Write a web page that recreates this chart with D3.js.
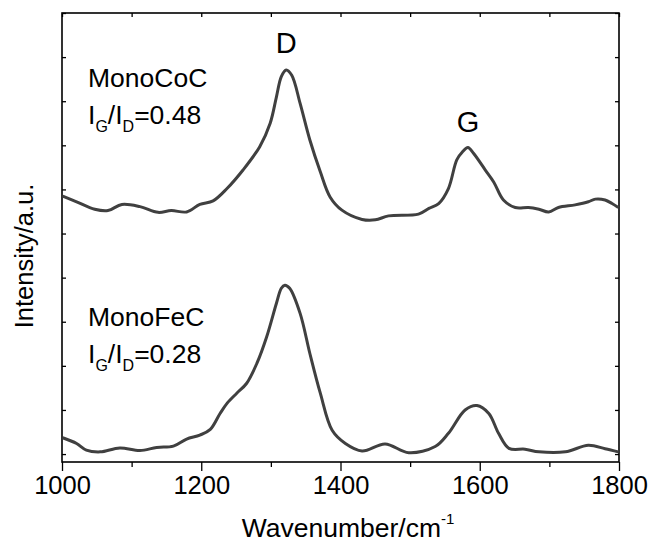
<!DOCTYPE html>
<html>
<head>
<meta charset="utf-8">
<script src="https://cdn.jsdelivr.net/npm/d3@7"></script>
<style>
  body { margin: 0; background: #fff; }
  svg text { font-family: 'Liberation Sans', Arial, sans-serif; fill: #000; }
</style>
</head>
<body>
<div class="svg-container"></div>
<script>
// Raman spectra, intensity in arbitrary units (tick spacing = 1)
const coWave = [1001, 1021, 1047, 1066, 1086, 1112, 1138, 1157, 1179, 1198, 1217, 1237, 1260, 1284, 1299, 1308, 1315, 1322, 1330, 1342, 1356, 1371, 1385, 1402, 1431, 1450, 1469, 1512, 1527, 1541, 1555, 1567, 1575, 1583, 1591, 1608, 1620, 1634, 1651, 1670, 1685, 1699, 1713, 1737, 1756, 1766, 1780, 1790, 1799]
const coInt = [5.85, 5.72, 5.55, 5.52, 5.66, 5.61, 5.48, 5.52, 5.49, 5.66, 5.74, 6.02, 6.44, 6.97, 7.5, 8.1, 8.56, 8.71, 8.59, 7.95, 7.12, 6.4, 5.83, 5.53, 5.32, 5.31, 5.4, 5.44, 5.57, 5.68, 6.02, 6.67, 6.85, 6.95, 6.82, 6.44, 6.17, 5.76, 5.59, 5.59, 5.55, 5.49, 5.59, 5.65, 5.72, 5.78, 5.76, 5.68, 5.59]

const feWave = [1001, 1021, 1035, 1055, 1083, 1112, 1136, 1160, 1179, 1198, 1213, 1227, 1237, 1251, 1265, 1280, 1294, 1308, 1315, 1320, 1327, 1342, 1356, 1371, 1388, 1407, 1431, 1464, 1498, 1536, 1555, 1579, 1596, 1613, 1627, 1642, 1665, 1685, 1723, 1756, 1780, 1799]
const feInt = [0.37, 0.24, 0.09, 0.05, 0.14, 0.08, 0.15, 0.18, 0.34, 0.43, 0.56, 0.92, 1.15, 1.38, 1.6, 2.06, 2.66, 3.42, 3.76, 3.83, 3.76, 3.19, 2.28, 1.38, 0.54, 0.24, 0.07, 0.23, 0.03, 0.17, 0.47, 1.0, 1.1, 0.92, 0.47, 0.13, 0.11, 0.05, 0.05, 0.2, 0.12, 0.05]

const xMajor = [1000, 1200, 1400, 1600, 1800]
const xMinor = [1100, 1300, 1500, 1700]
const yTicks = [0, 1, 2, 3, 4, 5, 6, 7, 8, 9, 10]

const width = 652
const height = 544
const margin = { top: 13, right: 33, bottom: 82, left: 62 }
const innerW = width - margin.left - margin.right
const innerH = height - margin.top - margin.bottom

const xScale = d3.scaleLinear().domain([1000, 1800]).range([0, innerW])
const yScale = d3.scaleLinear().domain([-0.18, 10]).range([innerH, 0])

const svg = d3
  .select('.svg-container')
  .append('svg')
  .attr('width', width)
  .attr('height', height)

const g = svg
  .append('g')
  .attr('transform', 'translate(' + margin.left + ',' + margin.top + ')')

// axes
const styleAxis = (sel) => {
  sel.select('.domain').remove()
  sel.selectAll('line').attr('stroke', '#000').attr('stroke-width', 1.3)
}

g.append('g')
  .attr('transform', 'translate(0,' + innerH + ')')
  .call(d3.axisBottom(xScale).tickValues(xMajor).tickSize(9).tickSizeOuter(0).tickFormat(d3.format('d')))
  .call(styleAxis)
  .call((s) => s.selectAll('text').attr('font-size', 25.5).attr('y', 14).attr('dy', '0.71em'))

g.append('g')
  .attr('transform', 'translate(0,' + innerH + ')')
  .call(d3.axisBottom(xScale).tickValues(xMinor).tickSize(5).tickFormat(''))
  .call(styleAxis)

g.append('g')
  .call(d3.axisTop(xScale).tickValues(xMajor.concat(xMinor)).tickSize(-4).tickFormat(''))
  .call(styleAxis)

g.append('g')
  .call(d3.axisLeft(yScale).tickValues(yTicks).tickSize(-4).tickFormat(''))
  .call(styleAxis)

g.append('g')
  .attr('transform', 'translate(' + innerW + ',0)')
  .call(d3.axisRight(yScale).tickValues(yTicks).tickSize(-4).tickFormat(''))
  .call(styleAxis)

g.append('rect')
  .attr('width', innerW)
  .attr('height', innerH)
  .attr('fill', 'none')
  .attr('stroke', '#000')
  .attr('stroke-width', 1.6)

// spectra
const line = d3
  .line()
  .x((d) => xScale(d[0]))
  .y((d) => yScale(d[1]))
  .curve(d3.curveCatmullRom.alpha(0.5))

const series = [d3.zip(coWave, coInt), d3.zip(feWave, feInt)]

g.selectAll('path.spec')
  .data(series)
  .enter()
  .append('path')
  .attr('class', 'spec')
  .attr('d', line)
  .attr('fill', 'none')
  .attr('stroke', '#404040')
  .attr('stroke-width', 3)
  .attr('stroke-linejoin', 'round')

// peak labels
g.append('text').attr('x', xScale(1322)).attr('y', 40).attr('text-anchor', 'middle').attr('font-size', 29).text('D')
g.append('text').attr('x', xScale(1583)).attr('y', 119).attr('text-anchor', 'middle').attr('font-size', 29).text('G')

// sample labels
function ratioLabel(x, y, name, value) {
  g.append('text').attr('x', x).attr('y', y).attr('font-size', 26.5).text(name)
  const t = g.append('text').attr('x', x).attr('y', y + 37).attr('font-size', 26.5)
  t.append('tspan').text('I')
  t.append('tspan').attr('font-size', 16).attr('dy', 8).text('G')
  t.append('tspan').attr('dy', -8).text('/I')
  t.append('tspan').attr('font-size', 16).attr('dy', 8).text('D')
  t.append('tspan').attr('dy', -8).text('=' + value)
}
ratioLabel(26, 74, 'MonoCoC', '0.48')
ratioLabel(26, 313, 'MonoFeC', '0.28')

// axis titles
const xt = svg.append('text')
  .attr('x', 348)
  .attr('y', 537)
  .attr('text-anchor', 'middle')
  .attr('font-size', 26.5)
xt.append('tspan').text('Wavenumber/cm')
xt.append('tspan').attr('font-size', 15).attr('dy', -13).text('-1')

svg.append('text')
  .attr('transform', 'translate(33,256) rotate(-90)')
  .attr('text-anchor', 'middle')
  .attr('font-size', 25.5)
  .text('Intensity/a.u.')
</script>
</body>
</html>
